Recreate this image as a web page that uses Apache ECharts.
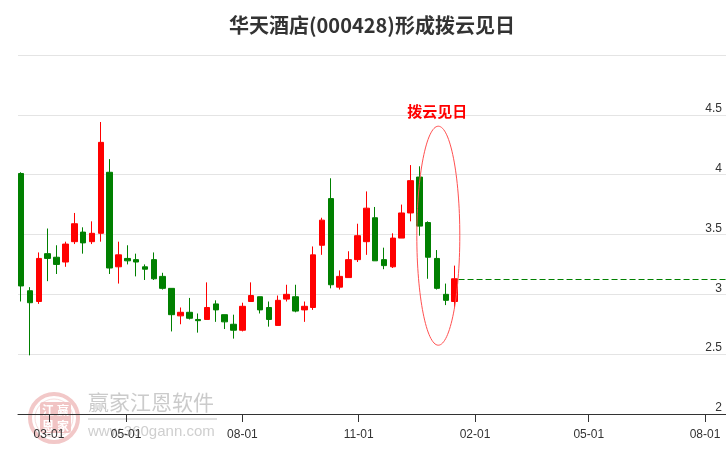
<!DOCTYPE html>
<html><head><meta charset="utf-8">
<script src="https://cdn.jsdelivr.net/npm/echarts@6/dist/echarts.min.js"></script>
<style>html,body{margin:0;padding:0;background:#fff}#c{width:726px;height:450px}</style>
</head><body><div id="c"></div>
<script>
// ---------- data ----------
const dates = ['2019-02-07','2019-02-14','2019-02-21','2019-02-28','2019-03-07','2019-03-14','2019-03-21','2019-03-28',
  '2019-04-04','2019-04-11','2019-04-18','2019-04-25','2019-05-02','2019-05-09','2019-05-16','2019-05-23','2019-05-30',
  '2019-06-06','2019-06-13','2019-06-20','2019-06-27','2019-07-04','2019-07-11','2019-07-18','2019-07-25',
  '2019-08-01','2019-08-08','2019-08-15','2019-08-22','2019-08-29','2019-09-05','2019-09-12','2019-09-19','2019-09-26',
  '2019-10-03','2019-10-10','2019-10-17','2019-10-24','2019-10-31','2019-11-07','2019-11-14','2019-11-21','2019-11-28',
  '2019-12-05','2019-12-12','2019-12-19','2019-12-26','2020-01-02','2020-01-09','2020-01-16'];
const opens  = [4.01,3.03,2.94,3.34,3.31,3.27,3.44,3.52,3.44,3.51,4.02,3.23,3.30,3.29,3.23,3.29,3.15,3.05,2.82,2.85,
  2.79,2.79,2.92,2.83,2.75,2.70,2.94,2.98,2.89,2.74,2.96,2.98,2.87,2.89,3.41,3.80,3.06,3.14,3.29,3.44,
  3.64,3.29,3.23,3.47,3.68,3.98,3.60,3.30,3.00,2.94];
const closes = [3.07,2.93,3.30,3.30,3.25,3.42,3.59,3.43,3.51,4.27,3.22,3.33,3.28,3.27,3.21,3.13,3.05,2.83,2.85,2.80,
  2.78,2.89,2.87,2.77,2.70,2.90,2.99,2.87,2.79,2.95,3.00,2.86,2.90,3.33,3.62,3.08,3.15,3.29,3.49,3.72,
  3.28,3.24,3.47,3.68,3.95,3.57,3.31,3.05,2.95,3.13];
const lows   = [2.94,2.49,2.92,3.11,3.17,3.23,3.42,3.34,3.42,3.44,3.17,3.09,3.25,3.15,3.12,3.12,3.04,2.69,2.75,2.79,
  2.68,2.79,2.77,2.71,2.63,2.69,2.94,2.84,2.73,2.74,2.94,2.85,2.77,2.87,3.33,3.05,3.04,3.14,3.27,3.33,
  3.28,3.21,3.22,3.47,3.61,3.49,3.13,3.04,2.91,2.89];
const highs  = [4.02,3.06,3.35,3.55,3.41,3.44,3.68,3.56,3.61,4.44,4.13,3.44,3.41,3.34,3.25,3.35,3.18,3.05,2.89,2.97,
  2.84,3.10,2.95,2.83,2.83,2.93,3.10,2.98,2.94,2.99,3.08,3.08,2.94,3.40,3.64,3.97,3.20,3.36,3.59,3.86,
  3.73,3.39,3.51,3.75,4.08,4.07,3.61,3.37,3.09,3.24];
const tickDates = ['2019-03-01','2019-05-01','2019-08-01','2019-11-01','2020-02-01','2020-05-01','2020-08-01'];
const axisMinDate = '2019-02-04 12:00';
const axisMaxDate = '2020-08-17 14:00';
const yMin = 2, yMax = 5, yStep = 0.5;
const titleText = '华天酒店(000428)形成拨云见日';
const patternLabel = '拨云见日';
const patternCenter = ['2020-01-03', 3.49];
const patternRadiusDays = 17, patternRadiusValue = 0.915;
const patternLabelValue = 4.53;

// ---------- helpers ----------
function ts(s) {
  const [d, t] = s.split(' ');
  const [y, m, dd] = d.split('-').map(Number);
  let hh = 0, mm = 0;
  if (t) { [hh, mm] = t.split(':').map(Number); }
  return new Date(y, m - 1, dd, hh, mm).getTime();
}
const pad = n => (n < 10 ? '0' : '') + n;
const DAY = 86400000;

const candleData = dates.map((d, i) => [ts(d), opens[i], closes[i], lows[i], highs[i]]);
const lastTs = ts(dates[dates.length - 1]);
const lastClose = closes[closes.length - 1];

const chart = echarts.init(document.getElementById('c'), null, {renderer: 'canvas'});
const labelFont = 'Liberation Sans, Arial, sans-serif';

chart.setOption({
  animation: false,
  backgroundColor: '#fff',
  title: {
    text: titleText, left: 229, top: 15, padding: 0,
    textStyle: {fontFamily: 'Noto Sans CJK SC', fontWeight: 'bold', fontSize: 20, color: '#333'}
  },
  grid: {left: 18, right: 0, top: 55, bottom: 36, containLabel: false, outerBoundsMode: 'none'},
  xAxis: {
    type: 'value', min: ts(axisMinDate), max: ts(axisMaxDate), scale: true,
    axisLine: {lineStyle: {color: '#333', width: 1}},
    axisTick: {show: true, length: 8, lineStyle: {color: '#333'}, customValues: tickDates.map(ts)},
    axisLabel: {
      customValues: tickDates.map(ts), margin: 15, fontSize: 12, color: '#333', fontFamily: labelFont,
      formatter: v => { const d = new Date(v); return pad(d.getMonth() + 1) + '-' + pad(d.getDate()); }
    },
    splitLine: {show: false}
  },
  yAxis: {
    type: 'value', position: 'right', min: yMin, max: yMax, interval: yStep,
    axisLine: {show: false}, axisTick: {show: false},
    axisLabel: {inside: true, verticalAlign: 'bottom', margin: 4, showMaxLabel: false,
      fontSize: 12, color: '#333', fontFamily: labelFont},
    splitLine: {lineStyle: {color: '#e4e4e4', width: 1}}
  },
  series: [{
    type: 'candlestick',
    data: candleData,
    encode: {x: 0, y: [1, 2, 3, 4]},
    barWidth: 6,
    itemStyle: {color: '#ff0000', color0: '#008000', borderColor: '#ff0000', borderColor0: '#008000', borderWidth: 1},
    markLine: {
      silent: true, symbol: ['none', 'none'], label: {show: false},
      lineStyle: {color: '#008000', width: 1, type: [6, 3]},
      data: [[{coord: [lastTs + 3 * DAY, lastClose]}, {coord: [ts(axisMaxDate), lastClose]}]]
    }
  }]
});

// annotation ellipse + label derived from data coordinates
const c = chart.convertToPixel({gridIndex: 0}, [ts(patternCenter[0]), patternCenter[1]]);
const e = chart.convertToPixel({gridIndex: 0}, [ts(patternCenter[0]) + patternRadiusDays * DAY, patternCenter[1] + patternRadiusValue]);
const lp = chart.convertToPixel({gridIndex: 0}, [ts(patternCenter[0]), patternLabelValue]);
const rx = Math.abs(e[0] - c[0]), ry = Math.abs(c[1] - e[1]);

chart.setOption({
  graphic: [
    // watermark
    {type: 'group', z: -1, silent: true, children: [
      {type: 'circle', shape: {cx: 54, cy: 418, r: 24}, style: {fill: 'none', stroke: '#f2c8c8', lineWidth: 4}},
      {type: 'circle', shape: {cx: 54, cy: 418, r: 19}, style: {fill: 'none', stroke: '#f6dcdc', lineWidth: 1}},
      {type: 'rect', shape: {x: 40, y: 402, width: 31, height: 31, r: 3}, style: {fill: '#f1c4c4'}},
      {type: 'text', x: 48, y: 410, style: {text: '江', fill: '#fff', font: 'bold 12px "Noto Sans CJK SC"', align: 'center', verticalAlign: 'middle'}},
      {type: 'text', x: 63, y: 410, style: {text: '赢', fill: '#fff', font: 'bold 12px "Noto Sans CJK SC"', align: 'center', verticalAlign: 'middle'}},
      {type: 'text', x: 48, y: 426, style: {text: '恩', fill: '#fff', font: 'bold 12px "Noto Sans CJK SC"', align: 'center', verticalAlign: 'middle'}},
      {type: 'text', x: 63, y: 426, style: {text: '家', fill: '#fff', font: 'bold 12px "Noto Sans CJK SC"', align: 'center', verticalAlign: 'middle'}},
      {type: 'text', x: 88, y: 402, style: {text: '赢家江恩软件', fill: '#cbcbcb', font: '21px "Noto Sans CJK SC"', align: 'left', verticalAlign: 'middle'}},
      {type: 'rect', shape: {x: 88, y: 418, width: 129, height: 2}, style: {fill: '#e0e0e0'}},
      {type: 'text', x: 88, y: 432, style: {text: 'www.360gann.com', fill: '#cfcfcf', font: '15px "Liberation Sans", Arial, sans-serif', align: 'left', verticalAlign: 'middle'}}
    ]},
    // pattern annotation
    {type: 'ellipse', z: 10, silent: true, shape: {cx: c[0], cy: c[1], rx: rx, ry: ry},
      style: {fill: 'none', stroke: '#ff5050', lineWidth: 1}},
    {type: 'text', z: 10, silent: true, x: lp[0] - 1, y: lp[1],
      style: {text: patternLabel, fill: '#ff0000', font: 'bold 15px "Noto Sans CJK SC"', align: 'center', verticalAlign: 'middle'}}
  ]
});
</script>
</body></html>
